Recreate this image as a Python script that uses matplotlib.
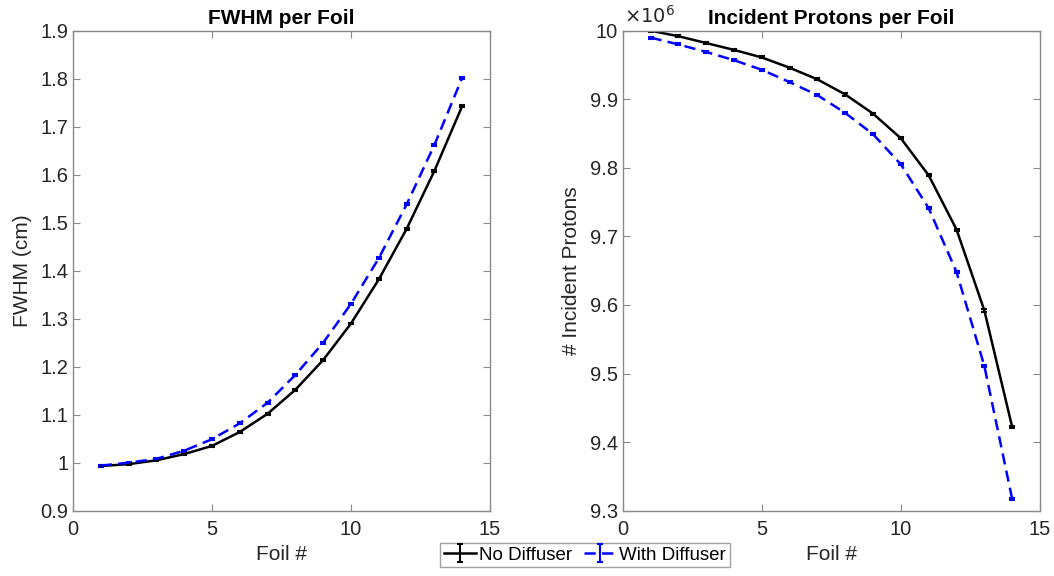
import matplotlib
matplotlib.use("Agg")
import matplotlib.pyplot as plt
from matplotlib.ticker import FuncFormatter, MultipleLocator

plt.rcParams['font.family'] = ['Liberation Sans', 'DejaVu Sans']

foil = [1, 2, 3, 4, 5, 6, 7, 8, 9, 10, 11, 12, 13, 14]
fwhm_no = [0.993, 0.997, 1.005, 1.018, 1.035, 1.064, 1.102, 1.152, 1.214, 1.290, 1.382, 1.487, 1.608, 1.743]
fwhm_with = [0.994, 1.000, 1.008, 1.025, 1.049, 1.082, 1.125, 1.183, 1.250, 1.331, 1.426, 1.538, 1.662, 1.802]
fwhm_err = [0.002] * 14
prot_no = [10.000e6, 9.992e6, 9.982e6, 9.972e6, 9.961e6, 9.946e6, 9.929e6, 9.907e6,
           9.879e6, 9.843e6, 9.789e6, 9.710e6, 9.592e6, 9.422e6]
prot_with = [9.990e6, 9.980e6, 9.969e6, 9.957e6, 9.943e6, 9.925e6, 9.906e6, 9.880e6,
             9.849e6, 9.805e6, 9.741e6, 9.648e6, 9.511e6, 9.317e6]
prot_err = [1500] * 14

W, H = 1054, 576
fig = plt.figure(figsize=(W / 100, H / 100), dpi=100)
ax1 = fig.add_axes([73 / W, (H - 510.7) / H, (490 - 73) / W, 480 / H])
ax2 = fig.add_axes([622.7 / W, (H - 510.7) / H, (1040 - 622.7) / W, 480 / H])

tick_col = '#262626'
spine_col = '#8a8a8a'
dash = (0, (4.5, 2.5))

eb = dict(lw=1.8, capsize=2.5, elinewidth=1.5, capthick=1.5)
h1 = ax1.errorbar(foil, fwhm_no, yerr=fwhm_err, color='black', label='No Diffuser', **eb)
h2 = ax1.errorbar(foil, fwhm_with, yerr=fwhm_err, color='blue', ls=dash, label='With Diffuser', **eb)
ax2.errorbar(foil, prot_no, yerr=prot_err, color='black', **eb)
ax2.errorbar(foil, prot_with, yerr=prot_err, color='blue', ls=dash, **eb)

ax1.set_xlim(0, 15)
ax1.set_ylim(0.9, 1.9)
ax1.xaxis.set_major_locator(MultipleLocator(5))
ax1.yaxis.set_major_locator(MultipleLocator(0.1))
ax1.yaxis.set_major_formatter(FuncFormatter(lambda v, p: f"{round(v, 4):g}"))
ax1.set_title('FWHM per Foil', fontsize=15, fontweight='bold', pad=5)
ax1.set_xlabel('Foil #', fontsize=15, color=tick_col)
ax1.set_ylabel('FWHM (cm)', fontsize=15, color=tick_col, labelpad=6)

ax2.set_xlim(0, 15)
ax2.set_ylim(9.3e6, 10e6)
ax2.xaxis.set_major_locator(MultipleLocator(5))
ax2.yaxis.set_major_locator(MultipleLocator(0.1e6))
ax2.yaxis.set_major_formatter(FuncFormatter(lambda v, p: f"{round(v / 1e6, 4):g}"))
ax2.set_title('Incident Protons per Foil', fontsize=15, fontweight='bold', pad=5)
ax2.set_xlabel('Foil #', fontsize=15, color=tick_col)
ax2.set_ylabel('# Incident Protons', fontsize=15, color=tick_col, labelpad=6)
ax2.text(0.003, 1.008, r'$\times10^{6}$', transform=ax2.transAxes, fontsize=14,
         color=tick_col, ha='left', va='bottom')

for ax in (ax1, ax2):
    for s in ax.spines.values():
        s.set_color(spine_col)
        s.set_linewidth(1.0)
    ax.tick_params(direction='in', top=True, right=True, length=5, width=0.8,
                   color=spine_col, labelcolor=tick_col, labelsize=14.5)
    ax.tick_params(axis='x', pad=7)

leg = fig.legend(handles=[h1, h2], labels=['No Diffuser', 'With Diffuser'],
                 loc='center', bbox_to_anchor=(585 / W, 1 - 555 / H), ncol=2,
                 fontsize=13.5, frameon=True, fancybox=False, edgecolor=spine_col,
                 borderpad=0.2, handlelength=1.7, handletextpad=0.2, columnspacing=0.6,
                 borderaxespad=0)
leg.get_frame().set_linewidth(1.0)

fig.savefig('out.png', dpi=100)
